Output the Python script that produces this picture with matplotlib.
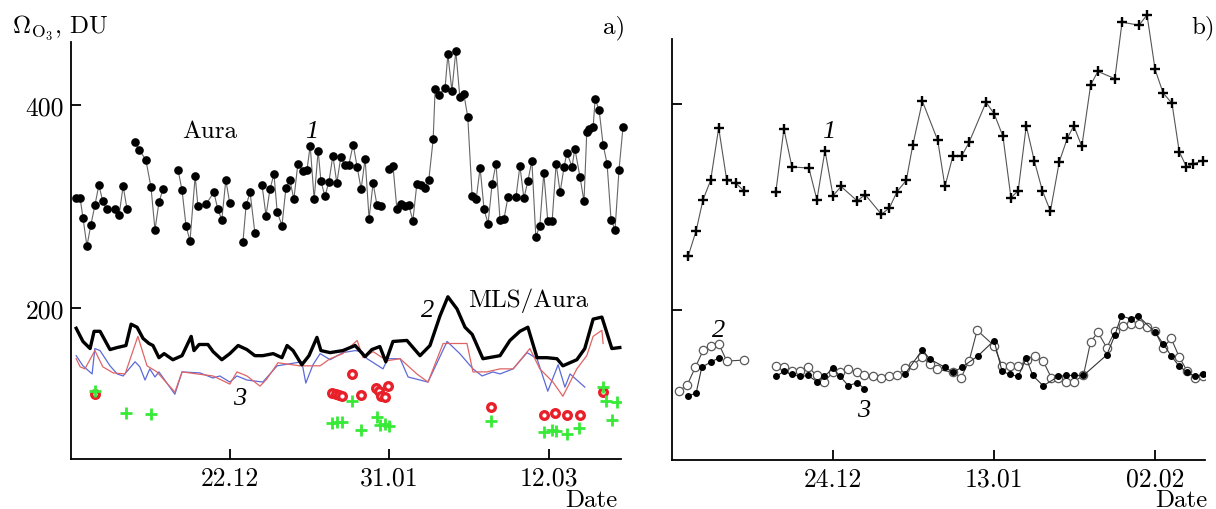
import numpy as np
import matplotlib
matplotlib.use("Agg")
import matplotlib.pyplot as plt

plt.rcParams.update({
    "font.family": "serif",
    "font.serif": ["cmr10"],
    "mathtext.fontset": "cm",
    "axes.unicode_minus": False,
})

nan = np.nan

# ---------------- panel a): days counted from 12 Nov ----------------
aura_day = [1.3, 2.3, 3.0, 4.0, 5.0, 6.0, 7.0, 8.0, 9.0, 11.1, 12.1, 13.1, 14.1, nan,
            16.1, 17.1, 18.8, 20.1, 21.1, 22.1, 23.1, nan,
            26.9, 27.9, 28.9, 29.9, 31.2, 31.9, 33.9, 35.9, 36.9, 37.9, 38.9, 39.9, nan,
            43.2, 44.0, 45.0, 46.2, nan,
            48.0, 49.0, 50.0, 51.0, 51.8, 53.0, 54.0, 55.0, 56.0, 57.0, 58.3, 59.3, 60.1,
            61.1, 62.1, 62.8, 63.8, 64.8, 65.8, 66.8, 67.8, 68.8, 69.8, 70.9, 71.9, 72.9,
            73.9, 74.9, 75.9, 76.9, 77.9, nan,
            79.9, 80.9, 81.9, 82.9, 83.9, 84.9, 85.9, 86.9, 87.9, 88.9, 89.9, 91.0, 91.5,
            92.5, 94.0, 94.7, 95.7, 96.7, 97.7, 98.7, 99.7, 100.8, 101.8, 102.8, 103.8,
            104.8, 105.8, 106.8, 107.8, 108.8, 109.8, 111.8, 112.8, 113.8, 114.8, 115.8,
            116.8, 117.8, 118.8, 119.8, 120.9, 121.9, 122.9, 123.9, 124.6, 125.9, 126.6,
            127.9, 128.9, 129.6, 130.2, 131.2, 131.7, 132.7, 133.7, 134.7, 135.7, 136.7,
            137.7, 138.7]
aura_val = [308, 308, 289, 261, 282, 301, 321, 305, 297, 297, 292, 320, 297, nan,
            363, 356, 346, 319, 277, 304, 317, nan,
            336, 316, 281, 266, 330, 300, 302, 314, 297, 287, 326, 303, nan,
            265, 301, 314, 274, nan,
            321, 291, 317, 332, 295, 281, 318, 326, 307, 342, 335, 336, 360,
            307, 355, 325, 310, 324, 350, 323, 349, 341, 341, 361, 339, 317,
            347, 288, 323, 301, 300, nan,
            337, 340, 297, 302, 300, 301, 286, 322, 321, 318, 326, 366, 416,
            410, 417, 450, 414, 453, 408, 411, 388, 310, 307, 338, 297,
            283, 322, 342, 287, 288, 309, 309, 340, 308, 325, 345,
            270, 281, 333, 286, 286, 342, 314, 339, 353, 339, 357,
            329, 305, 373, 376, 378, 406, 395, 361, 342, 287, 277,
            336, 378]

mls_day = [1.3, 3.0, 4.8, 5.8, 7.3, 9.8, 11.6, 13.8, 15.1, 16.6, 18.1, 19.6, 20.6, 22.1,
           23.4, 25.6, 27.9, 30.2, 30.9, 32.2, 34.4, 35.7, 37.9, 39.9, 42.0, 44.2, 46.2,
           48.2, 50.8, 53.0, 54.3, 55.8, 58.0, 59.8, 61.8, 62.8, 65.1, 68.3, 71.4, 73.9,
           75.6, 77.6, 79.1, 80.9, 84.4, 87.7, 90.2, 92.7, 94.7, 97.0, 99.0, 100.8, 103.5,
           107.8, 110.3, 112.8, 114.8, 117.1, 119.6, 122.1, 123.6, 127.1, 129.1, 131.2,
           133.4, 135.9, 137.9]
mls_val = [180, 167, 160, 177, 177, 159, 161, 163, 184, 181, 170, 165, 163, 151,
           155, 149, 153, 172, 158, 164, 164, 157, 149, 155, 163, 159, 153,
           153, 155, 151, 163, 158, 144, 153, 171, 158, 156, 158, 163, 152,
           159, 162, 147, 167, 168, 153, 163, 192, 211, 199, 181, 174, 150,
           153, 168, 177, 181, 151, 151, 150, 143, 149, 160, 189,
           191, 160, 161]

blue_day = [1.3, 3.0, 5.3, 6.0, 7.3, 9.8, 11.6, 13.1, 16.1, 17.3, 18.6, 19.8, 21.1, 22.1,
            24.1, 26.1, 27.9, 32.4, 35.7, 37.4, 39.9, 41.7, 44.2, 48.2, 51.8, 55.0, 58.0,
            59.0, 60.8, 62.6, 65.1, 68.3, 71.4, 73.1, 74.4, 78.4, 79.6, 82.7, 84.7, 89.7,
            94.5, 97.7, 101.0, 103.3, 106.0, 107.8, 111.1, 114.6, 117.1, 119.8, 122.4,
            124.1, 125.4, 129.1]
blue_val = [153, 143, 135, 160, 158, 143, 135, 133, 147, 142, 129, 140, 132, 137,
            126, 115, 137, 136, 131, 133, 127, 133, 129, 127, 143, 145, 147,
            126, 144, 155, 149, 156, 158, 157, 150, 140, 150, 150, 132, 127,
            167, 155, 140, 133, 137, 135, 140, 156, 150, 118, 144,
            122, 135, 122]

red_day = [1.3, 2.3, 3.5, 6.0, 8.0, 10.6, 13.6, 16.8, 19.1, 21.6, 26.1, 27.9, 31.7, 35.7,
           39.9, 41.7, 44.2, 47.5, 49.2, 52.0, 57.5, 62.6, 65.1, 68.3, 71.9, 73.4, 75.9,
           79.4, 82.7, 86.9, 89.7, 93.5, 97.0, 99.5, 101.0, 104.5, 107.8, 111.1, 115.3,
           117.8, 121.1, 123.6, 127.1, 129.6, 131.2, 133.4, 133.7]
red_val = [150, 142, 140, 158, 142, 136, 135, 172, 143, 137, 117, 137, 135, 133,
           125, 137, 133, 123, 130, 146, 143, 143, 150, 155, 168, 151, 157,
           148, 150, 135, 127, 165, 165, 165, 137, 137, 140, 140, 160,
           140, 127, 113, 140, 153, 172, 178, 165]

ring_day = [6.0, 65.6, 66.6, 67.3, 68.1, 70.6, 72.9, 76.6, 77.4, 77.9, 78.9, 79.6,
            105.5, 118.8, 121.6, 124.6, 127.9, 133.7]
ring_val = [115, 116, 115, 114, 113, 135, 114, 121, 118, 113, 112, 123,
            102, 95, 97, 95, 95, 117]

plus_day = [6.0, 13.8, 20.1, 65.6, 66.8, 68.1, 70.6, 72.9, 76.9, 77.6, 78.9, 79.9,
            105.5, 118.8, 120.9, 121.9, 124.6, 127.6, 133.7, 134.4, 137.2, 135.9]
plus_val = [118, 97, 96, 87, 88, 88, 108, 80, 93, 85, 86, 84,
            89, 78, 80, 79, 76, 82, 122, 108, 107, 90]

a_ticks = [40, 80, 120]
a_ticklabels = ["22.12", "31.01", "12.03"]

# ---------------- panel b): days counted from 04 Dec ----------------
b1_day = [2.0, 3.0, 3.85, 4.8, 5.8, 6.8, 7.95, 8.9, nan,
          12.9, 13.9, 14.9, 17.0, 18.0, 19.0, 20.0, 21.0, 23.0, 24.0,
          26.0, 27.0, 27.95, 29.1, 29.9, 31.1, 33.0, 33.9, 34.9, 36.0,
          36.9, 39.0, 40.0, 41.1, 42.1, 43.0, 44.0, 45.0, 46.0, 47.0,
          48.1, 49.1, 49.9, 50.9, 52.0, 52.9, 55.0, 55.9, 58.0, 59.0,
          60.0, 61.0, 62.1, 63.0, 63.9, 64.7, 65.9]
b1_val = [252, 277, 307, 326, 377, 326, 323, 316, nan,
          315, 376, 339, 338, 307, 355, 311, 320, 306, 312,
          293, 299, 315, 326, 360, 403, 365, 320, 350, 350,
          363, 402, 391, 369, 309, 316, 379, 345, 316, 296,
          344, 367, 379, 359, 419, 432, 425, 480, 477, 487,
          434, 411, 401, 354, 339, 342, 345]

b2_day = [0.9, 1.9, 2.9, 3.9, 4.8, 5.8, 6.8, 8.9, nan,
          12.9, 13.9, 14.9, 15.9, 16.9, 18.0, 18.9, 20.0, 20.9, 21.9,
          23.0, 23.9, 25.0, 26.0, 27.0, 28.0, 28.9, 29.9, 31.1, 32.0,
          32.9, 34.9, 35.9, 36.9, 37.9, 40.0, 41.0, 42.0, 43.0, 44.1,
          45.1, 46.1, 47.1, 48.0, 48.9, 49.9, 51.1, 52.0, 52.9, 54.0,
          55.0, 56.0, 57.0, 58.0, 59.0, 60.0, 61.0, 62.0, 63.0, 64.0,
          65.0, 66.0]
b2_val = [121, 127, 144, 161, 165, 167, 150, 151, nan,
          145, 144, 140, 140, 144, 136, 130, 139, 139, 142,
          139, 136, 135, 134, 135, 136, 143, 146, 154, 147,
          142, 139, 134, 150, 180, 165, 145, 145, 145, 151,
          155, 150, 134, 134, 130, 130, 136, 169, 178, 163,
          179, 184, 186, 186, 183, 179, 163, 172, 154, 140,
          134, 135]

b3_day = [2.0, 3.0, 3.7, 4.8, 5.8, nan,
          12.9, 13.9, 14.9, 15.9, 16.9, 18.0, 18.9, 20.0, 20.9, 21.9, 23.0, 23.9, nan,
          28.9, 31.1, 32.0, 33.9, 34.9, 36.0, 38.0, 40.0, 41.0, 42.0, 43.0, 44.0,
          44.8, 46.1, 48.0, 48.9, 49.9, 51.1, 54.0, 55.0, 55.8, 57.0, 57.9, 60.0,
          61.0, 62.0, 63.0, 64.0, 65.0, 66.0]
b3_val = [116, 119, 144, 149, 153, nan,
          135, 140, 137, 135, 136, 130, 135, 143, 135, 126, 129, 123, nan,
          137, 161, 152, 144, 139, 144, 155, 170, 140, 137, 135, 153,
          136, 126, 135, 136, 136, 136, 156, 175, 194, 191, 194, 178,
          167, 155, 145, 139, 135, 137]

b_ticks = [20, 40, 60]
b_ticklabels = ["24.12", "13.01", "02.02"]

# ---------------- figure ----------------
W, H = 1216, 510
fig = plt.figure(figsize=(W / 100, H / 100), dpi=100)


def px_axes(x0, y0, x1, y1):
    return fig.add_axes([x0 / W, 1 - y1 / H, (x1 - x0) / W, (y1 - y0) / H])


def ftext(x, y, s, **kw):
    kw.setdefault("fontsize", 18)
    fig.text(x / W, 1 - y / H, s, va="baseline", **kw)


def style(ax):
    for side in ("top", "right"):
        ax.spines[side].set_visible(False)
    for side in ("left", "bottom"):
        ax.spines[side].set_linewidth(1.3)
    ax.tick_params(direction="in", length=7.5, width=1.3, labelsize=18.5, pad=5)


ax1 = px_axes(71, 43, 621, 460)
ax2 = px_axes(672, 40, 1205, 461)

ax1.plot(blue_day, blue_val, color="#5b6ad8", lw=0.9)
ax1.plot(red_day, red_val, color="#e06464", lw=0.9)
ax1.plot(mls_day, mls_val, color="black", lw=2.4, clip_on=False)
ax1.plot(aura_day, aura_val, color="#666666", lw=0.8, marker="o", ms=5.2,
         mfc="black", mec="black", clip_on=False)
ax1.plot(ring_day, ring_val, ls="none", marker="o", ms=5.5, mfc="white",
         mec="#e8202a", mew=2.4)
ax1.plot(plus_day, plus_val, ls="none", marker="+", ms=8, mew=2.0, color="#38ea38")

ax1.set_xlim(0, 138.2)
ax1.set_ylim(51.2, 462)
ax1.set_xticks(a_ticks, a_ticklabels)
ax1.set_yticks([200, 400], ["200", "400"])
style(ax1)

ax2.plot(b1_day, b1_val, color="#555555", lw=0.8, marker="+", ms=7.5, mew=1.7,
         mec="black", clip_on=False)
ax2.plot(b2_day, b2_val, color="#444444", lw=0.8, marker="o", ms=6, mfc="white",
         mec="#5a5a5a", mew=0.9)
ax2.plot(b3_day, b3_val, color="#333333", lw=0.8, marker="o", ms=4, mfc="black",
         mec="black")

ax2.set_xlim(0, 66.2)
ax2.set_ylim(53.7, 463.6)
ax2.set_xticks(b_ticks, b_ticklabels)
ax2.set_yticks([200, 400], ["", ""])
style(ax2)

# annotations
ital = dict(family="Liberation Serif", style="italic", fontsize=19)
ftext(12, 33, r"$\Omega_{\mathrm{O_3}}$, DU", ha="left")
ftext(625, 33, "a)", ha="right")
ftext(182, 138, "Aura")
ftext(305, 138, "1", **ital)
ftext(421, 317, "2", **ital)
ftext(468, 307, "MLS/Aura")
ftext(233, 405, "3", **ital)
ftext(617, 507, "Date", ha="right")

ftext(1215, 33, "b)", ha="right")
ftext(822, 138, "1", **ital)
ftext(712, 337, "2", **ital)
ftext(857, 417, "3", **ital)
ftext(1207, 507, "Date", ha="right")

fig.savefig("out.png", dpi=100)
